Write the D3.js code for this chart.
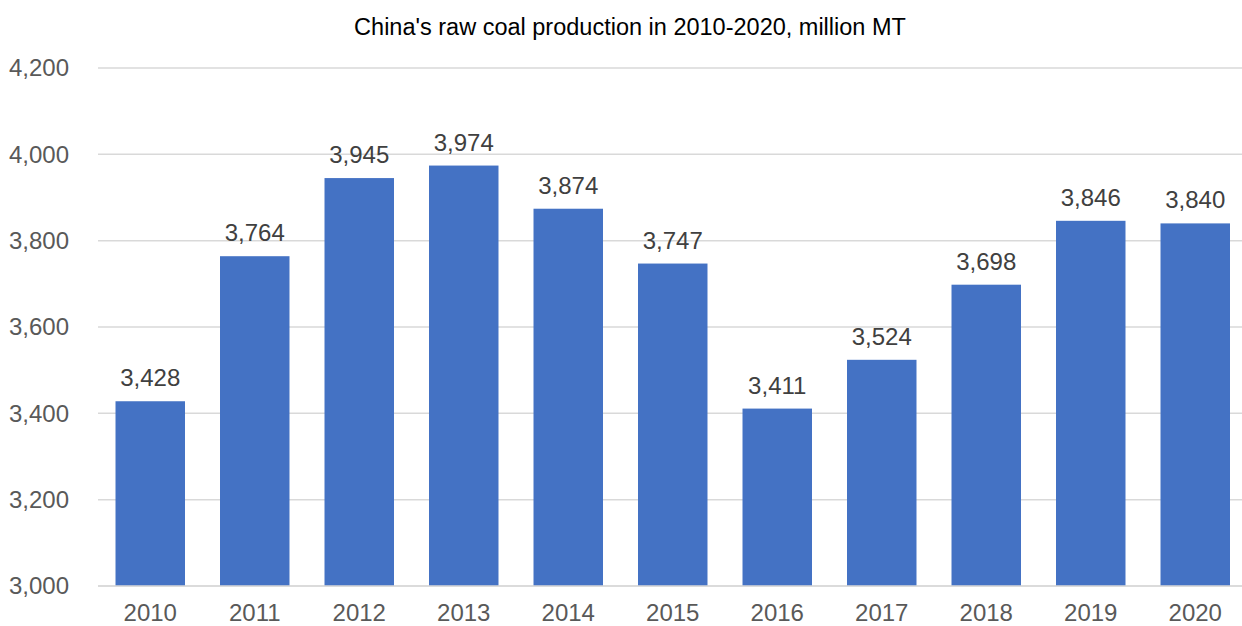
<!DOCTYPE html>
<html><head><meta charset="utf-8">
<script src="https://cdn.jsdelivr.net/npm/d3@7"></script>
<style>body{margin:0;background:#fff;}svg{display:block;font-family:"Liberation Sans",Arial,sans-serif;}</style>
</head><body>
<script>
const categories = ["2010","2011","2012","2013","2014","2015","2016","2017","2018","2019","2020"];
const values = [3428,3764,3945,3974,3874,3747,3411,3524,3698,3846,3840];
const yTicks = [3000,3200,3400,3600,3800,4000,4200];
const title = "China's raw coal production in 2010-2020, million MT";

const W = 1242, H = 626;
const m = {left: 98, right: 1247.5, top: 68, bottom: 586};
const svg = d3.select("body").append("svg").attr("width", W).attr("height", H);
const x = d3.scaleBand().domain(categories).range([m.left, m.right]).paddingInner(0.335).paddingOuter(0.1675);
const y = d3.scaleLinear().domain([3000, 4200]).range([m.bottom, m.top]);
const fmt = d3.format(",");

svg.append("g").selectAll("line").data(yTicks).join("line")
  .attr("x1", m.left).attr("x2", m.right)
  .attr("y1", d => y(d)).attr("y2", d => y(d))
  .attr("stroke", "#d9d9d9").attr("stroke-width", 1.5);

svg.append("g").selectAll("text").data(yTicks).join("text")
  .attr("x", 69).attr("y", d => y(d)).attr("dy", "0.35em")
  .attr("text-anchor", "end").attr("font-size", 24).attr("fill", "#595959")
  .text(d => fmt(d));

svg.append("g").selectAll("rect").data(values).join("rect")
  .attr("x", (d,i) => x(categories[i])).attr("width", x.bandwidth())
  .attr("y", d => y(d)).attr("height", d => y(3000) - y(d))
  .attr("fill", "#4472C4");

svg.append("line").attr("x1", m.left).attr("x2", m.right)
  .attr("y1", y(3000)).attr("y2", y(3000)).attr("stroke", "#d9d9d9").attr("stroke-width", 1.5);

svg.append("g").selectAll("text").data(values).join("text")
  .attr("x", (d,i) => x(categories[i]) + x.bandwidth()/2).attr("y", d => y(d) - 15)
  .attr("text-anchor", "middle").attr("font-size", 24).attr("fill", "#404040")
  .text(d => fmt(d));

svg.append("g").selectAll("text").data(categories).join("text")
  .attr("x", d => x(d) + x.bandwidth()/2).attr("y", 621)
  .attr("text-anchor", "middle").attr("font-size", 24).attr("fill", "#595959")
  .text(d => d);

svg.append("text").attr("x", 630).attr("y", 35).attr("text-anchor", "middle")
  .attr("font-size", 23.5).attr("fill", "#000").text(title);
</script>
</body></html>
